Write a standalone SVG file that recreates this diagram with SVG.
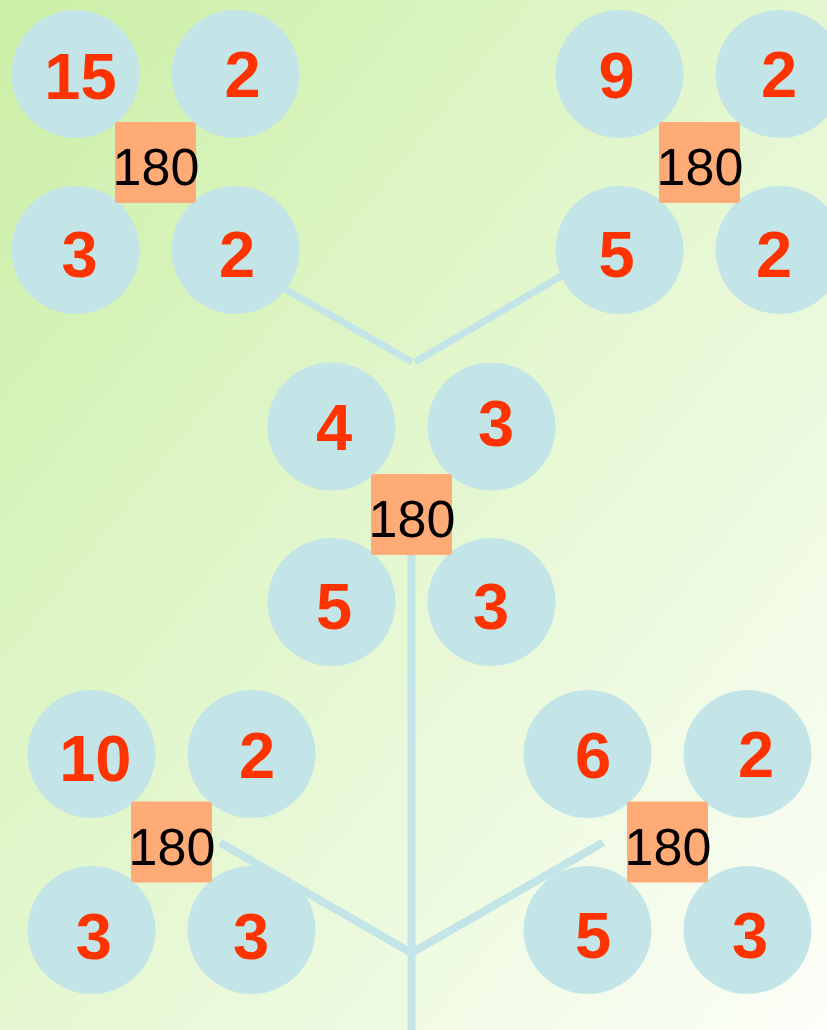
<svg xmlns="http://www.w3.org/2000/svg" width="827" height="1030" viewBox="0 0 827 1030">
  <defs>
    <linearGradient id="bg" x1="0" y1="0" x2="1" y2="1">
      <stop offset="0" stop-color="#cbefa6"/>
      <stop offset="0.5" stop-color="#e4f7d0"/>
      <stop offset="1" stop-color="#fcfef8"/>
    </linearGradient>
  </defs>
  <style>
    .c { fill: #c4e5e7; }
    .sq { fill: #ffab78; }
    .n { font-family: "Liberation Sans", Arial, sans-serif; font-weight: bold; font-size: 65px; fill: #ff3300; text-anchor: middle; }
    .v { font-family: "Liberation Sans", Arial, sans-serif; font-size: 52px; fill: #000000; text-anchor: middle; }
    .e { stroke: #c4e5e7; fill: none; stroke-linecap: butt; }
  </style>
  <rect x="0" y="0" width="827" height="1030" fill="url(#bg)"/>

  <g id="connectors">
    <line class="e" x1="411.5" y1="514" x2="411.5" y2="1030" stroke-width="8"/>
    <line class="e" x1="411.5" y1="953" x2="220" y2="842.5" stroke-width="8"/>
    <line class="e" x1="411.5" y1="953" x2="603" y2="842.5" stroke-width="8"/>
    <line class="e" x1="412" y1="362" x2="220" y2="251.5" stroke-width="7"/>
    <line class="e" x1="415" y1="362" x2="603" y2="251.5" stroke-width="7"/>
  </g>

  <g id="node-top-left">
    <circle class="c" cx="75.5" cy="74" r="64"/>
    <circle class="c" cx="235.5" cy="74" r="64"/>
    <circle class="c" cx="75.5" cy="250" r="64"/>
    <circle class="c" cx="235.5" cy="250" r="64"/>
    <rect class="sq" x="115" y="122" width="81" height="81" rx="3"/>
    <text class="n" x="80.5" y="99">15</text>
    <text class="n" x="242.5" y="97">2</text>
    <text class="n" x="79.5" y="277">3</text>
    <text class="n" x="237" y="277">2</text>
    <text class="v" x="156" y="185">180</text>
  </g>

  <g id="node-top-right">
    <circle class="c" cx="619.5" cy="74" r="64"/>
    <circle class="c" cx="779.5" cy="74" r="64"/>
    <circle class="c" cx="619.5" cy="250" r="64"/>
    <circle class="c" cx="779.5" cy="250" r="64"/>
    <rect class="sq" x="659" y="122" width="81" height="81" rx="3"/>
    <text class="n" x="616.7" y="98">9</text>
    <text class="n" x="779" y="97">2</text>
    <text class="n" x="616.7" y="277">5</text>
    <text class="n" x="774" y="277">2</text>
    <text class="v" x="700" y="185">180</text>
  </g>

  <g id="node-center">
    <circle class="c" cx="331.5" cy="426.5" r="64"/>
    <circle class="c" cx="491.5" cy="426.5" r="64"/>
    <circle class="c" cx="331.5" cy="602" r="64"/>
    <circle class="c" cx="491.5" cy="602" r="64"/>
    <rect class="sq" x="371" y="474" width="81" height="81" rx="3"/>
    <text class="n" x="334" y="450">4</text>
    <text class="n" x="496" y="446">3</text>
    <text class="n" x="334" y="629">5</text>
    <text class="n" x="491" y="629">3</text>
    <text class="v" x="412" y="537">180</text>
  </g>

  <g id="node-bottom-left">
    <circle class="c" cx="91.5" cy="754" r="64"/>
    <circle class="c" cx="251.5" cy="754" r="64"/>
    <circle class="c" cx="91.5" cy="930" r="64"/>
    <circle class="c" cx="251.5" cy="930" r="64"/>
    <rect class="sq" x="131" y="801.5" width="81" height="81" rx="3"/>
    <text class="n" x="95.3" y="781">10</text>
    <text class="n" x="257" y="778">2</text>
    <text class="n" x="93.8" y="959">3</text>
    <text class="n" x="251" y="959">3</text>
    <text class="v" x="172" y="864.5">180</text>
  </g>

  <g id="node-bottom-right">
    <circle class="c" cx="587.5" cy="754" r="64"/>
    <circle class="c" cx="747.5" cy="754" r="64"/>
    <circle class="c" cx="587.5" cy="930" r="64"/>
    <circle class="c" cx="747.5" cy="930" r="64"/>
    <rect class="sq" x="627" y="801.5" width="81" height="81" rx="3"/>
    <text class="n" x="593" y="778">6</text>
    <text class="n" x="756" y="776.5">2</text>
    <text class="n" x="593" y="957.5">5</text>
    <text class="n" x="750" y="957.5">3</text>
    <text class="v" x="668" y="864.5">180</text>
  </g>
</svg>
